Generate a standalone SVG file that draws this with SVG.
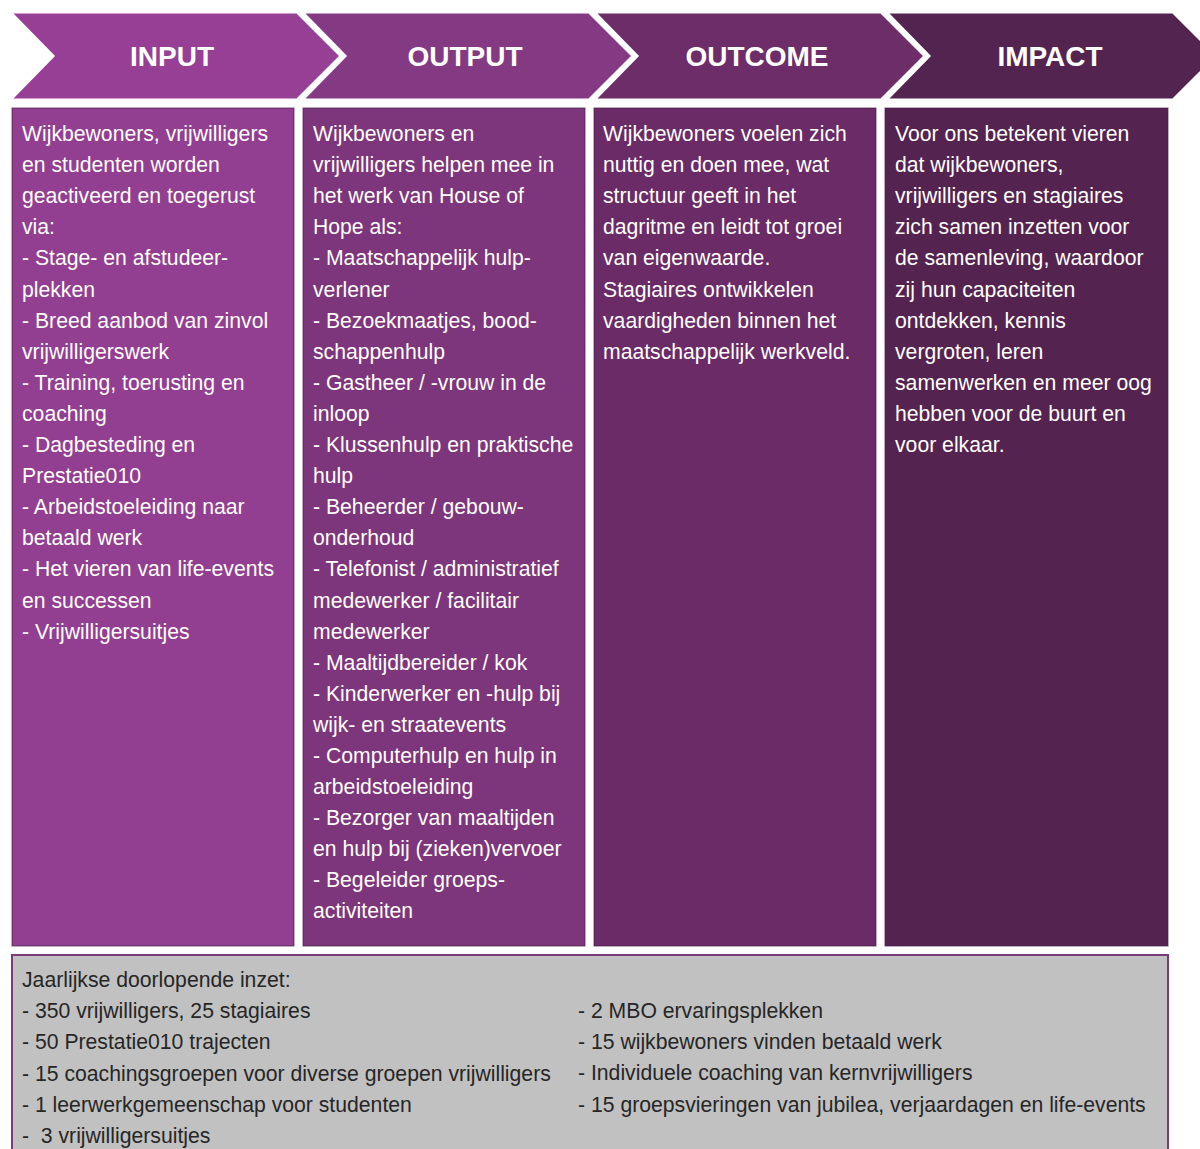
<svg xmlns="http://www.w3.org/2000/svg" width="1200" height="1149" viewBox="0 0 1200 1149">
<style>
.hd{font-family:"Liberation Sans",Arial,sans-serif;font-weight:bold;font-size:28px;fill:#ffffff;text-anchor:middle}
.bt{font-family:"Liberation Sans",Arial,sans-serif;font-size:21.2px;fill:#ffffff}
.gt{font-family:"Liberation Sans",Arial,sans-serif;font-size:21.2px;fill:#262626}
.chev{stroke:#ffffff;stroke-width:3}
.box{stroke:#4a2048;stroke-width:1.2;stroke-opacity:0.6}
</style>
<rect width="1200" height="1149" fill="#ffffff"/>

<g id="chevron-input">
<polygon class="chev" points="10,12 297,12 341,56 297,100 10,100 53,56" fill="#963f95"/>
<text class="hd" x="172" y="66">INPUT</text>
</g>
<g id="chevron-output">
<polygon class="chev" points="302,12 589,12 633,56 589,100 302,100 345,56" fill="#843a82"/>
<text class="hd" x="465" y="66">OUTPUT</text>
</g>
<g id="chevron-outcome">
<polygon class="chev" points="594,12 881,12 925,56 881,100 594,100 637,56" fill="#6c2d69"/>
<text class="hd" x="757" y="66">OUTCOME</text>
</g>
<g id="chevron-impact">
<polygon class="chev" points="886,12 1173,12 1217,56 1173,100 886,100 929,56" fill="#542451"/>
<text class="hd" x="1050" y="66">IMPACT</text>
</g>

<g id="connectors"></g>

<g id="box-input">
<rect class="box" x="12" y="108" width="282" height="838" fill="#923e91"/>
<text class="bt" x="22" y="141">
<tspan x="22" dy="0">Wijkbewoners, vrijwilligers</tspan>
<tspan x="22" dy="31.1">en studenten worden</tspan>
<tspan x="22" dy="31.1">geactiveerd en toegerust</tspan>
<tspan x="22" dy="31.1">via:</tspan>
<tspan x="22" dy="31.1">- Stage- en afstudeer-</tspan>
<tspan x="22" dy="31.1">plekken</tspan>
<tspan x="22" dy="31.1">- Breed aanbod van zinvol</tspan>
<tspan x="22" dy="31.1">vrijwilligerswerk</tspan>
<tspan x="22" dy="31.1">- Training, toerusting en</tspan>
<tspan x="22" dy="31.1">coaching</tspan>
<tspan x="22" dy="31.1">- Dagbesteding en</tspan>
<tspan x="22" dy="31.1">Prestatie010</tspan>
<tspan x="22" dy="31.1">- Arbeidstoeleiding naar</tspan>
<tspan x="22" dy="31.1">betaald werk</tspan>
<tspan x="22" dy="31.1">- Het vieren van life-events</tspan>
<tspan x="22" dy="31.1">en successen</tspan>
<tspan x="22" dy="31.1">- Vrijwilligersuitjes</tspan>
</text>
</g>

<g id="box-output">
<rect class="box" x="303" y="108" width="282" height="838" fill="#7d357b"/>
<text class="bt" x="313" y="141">
<tspan x="313" dy="0">Wijkbewoners en</tspan>
<tspan x="313" dy="31.1">vrijwilligers helpen mee in</tspan>
<tspan x="313" dy="31.1">het werk van House of</tspan>
<tspan x="313" dy="31.1">Hope als:</tspan>
<tspan x="313" dy="31.1">- Maatschappelijk hulp-</tspan>
<tspan x="313" dy="31.1">verlener</tspan>
<tspan x="313" dy="31.1">- Bezoekmaatjes, bood-</tspan>
<tspan x="313" dy="31.1">schappenhulp</tspan>
<tspan x="313" dy="31.1">- Gastheer / -vrouw in de</tspan>
<tspan x="313" dy="31.1">inloop</tspan>
<tspan x="313" dy="31.1">- Klussenhulp en praktische</tspan>
<tspan x="313" dy="31.1">hulp</tspan>
<tspan x="313" dy="31.1">- Beheerder / gebouw-</tspan>
<tspan x="313" dy="31.1">onderhoud</tspan>
<tspan x="313" dy="31.1">- Telefonist / administratief</tspan>
<tspan x="313" dy="31.1">medewerker / facilitair</tspan>
<tspan x="313" dy="31.1">medewerker</tspan>
<tspan x="313" dy="31.1">- Maaltijdbereider / kok</tspan>
<tspan x="313" dy="31.1">- Kinderwerker en -hulp bij</tspan>
<tspan x="313" dy="31.1">wijk- en straatevents</tspan>
<tspan x="313" dy="31.1">- Computerhulp en hulp in</tspan>
<tspan x="313" dy="31.1">arbeidstoeleiding</tspan>
<tspan x="313" dy="31.1">- Bezorger van maaltijden</tspan>
<tspan x="313" dy="31.1">en hulp bij (zieken)vervoer</tspan>
<tspan x="313" dy="31.1">- Begeleider groeps-</tspan>
<tspan x="313" dy="31.1">activiteiten</tspan>
</text>
</g>

<g id="box-outcome">
<rect class="box" x="594" y="108" width="282" height="838" fill="#6a2b67"/>
<text class="bt" x="603" y="141">
<tspan x="603" dy="0">Wijkbewoners voelen zich</tspan>
<tspan x="603" dy="31.1">nuttig en doen mee, wat</tspan>
<tspan x="603" dy="31.1">structuur geeft in het</tspan>
<tspan x="603" dy="31.1">dagritme en leidt tot groei</tspan>
<tspan x="603" dy="31.1">van eigenwaarde.</tspan>
<tspan x="603" dy="31.1">Stagiaires ontwikkelen</tspan>
<tspan x="603" dy="31.1">vaardigheden binnen het</tspan>
<tspan x="603" dy="31.1">maatschappelijk werkveld.</tspan>
</text>
</g>

<g id="box-impact">
<rect class="box" x="885" y="108" width="283" height="838" fill="#542350"/>
<text class="bt" x="895" y="141">
<tspan x="895" dy="0">Voor ons betekent vieren</tspan>
<tspan x="895" dy="31.1">dat wijkbewoners,</tspan>
<tspan x="895" dy="31.1">vrijwilligers en stagiaires</tspan>
<tspan x="895" dy="31.1">zich samen inzetten voor</tspan>
<tspan x="895" dy="31.1">de samenleving, waardoor</tspan>
<tspan x="895" dy="31.1">zij hun capaciteiten</tspan>
<tspan x="895" dy="31.1">ontdekken, kennis</tspan>
<tspan x="895" dy="31.1">vergroten, leren</tspan>
<tspan x="895" dy="31.1">samenwerken en meer oog</tspan>
<tspan x="895" dy="31.1">hebben voor de buurt en</tspan>
<tspan x="895" dy="31.1">voor elkaar.</tspan>
</text>
</g>

<g id="box-inzet">
<rect x="12" y="955" width="1156" height="210" fill="#c1c1c1" stroke="#7b3b78" stroke-width="2"/>
<text class="gt" x="22" y="987">
<tspan x="22" dy="0">Jaarlijkse doorlopende inzet:</tspan>
<tspan x="22" dy="31.2">- 350 vrijwilligers, 25 stagiaires</tspan>
<tspan x="22" dy="31.2">- 50 Prestatie010 trajecten</tspan>
<tspan x="22" dy="31.2">- 15 coachingsgroepen voor diverse groepen vrijwilligers</tspan>
<tspan x="22" dy="31.2">- 1 leerwerkgemeenschap voor studenten</tspan>
<tspan x="22" dy="31.2">-&#160; 3 vrijwilligersuitjes</tspan>
</text>
<text class="gt" x="578" y="1018">
<tspan x="578" dy="0">- 2 MBO ervaringsplekken</tspan>
<tspan x="578" dy="31.2">- 15 wijkbewoners vinden betaald werk</tspan>
<tspan x="578" dy="31.2">- Individuele coaching van kernvrijwilligers</tspan>
<tspan x="578" dy="31.2">- 15 groepsvieringen van jubilea, verjaardagen en life-events</tspan>
</text>
</g>
</svg>
